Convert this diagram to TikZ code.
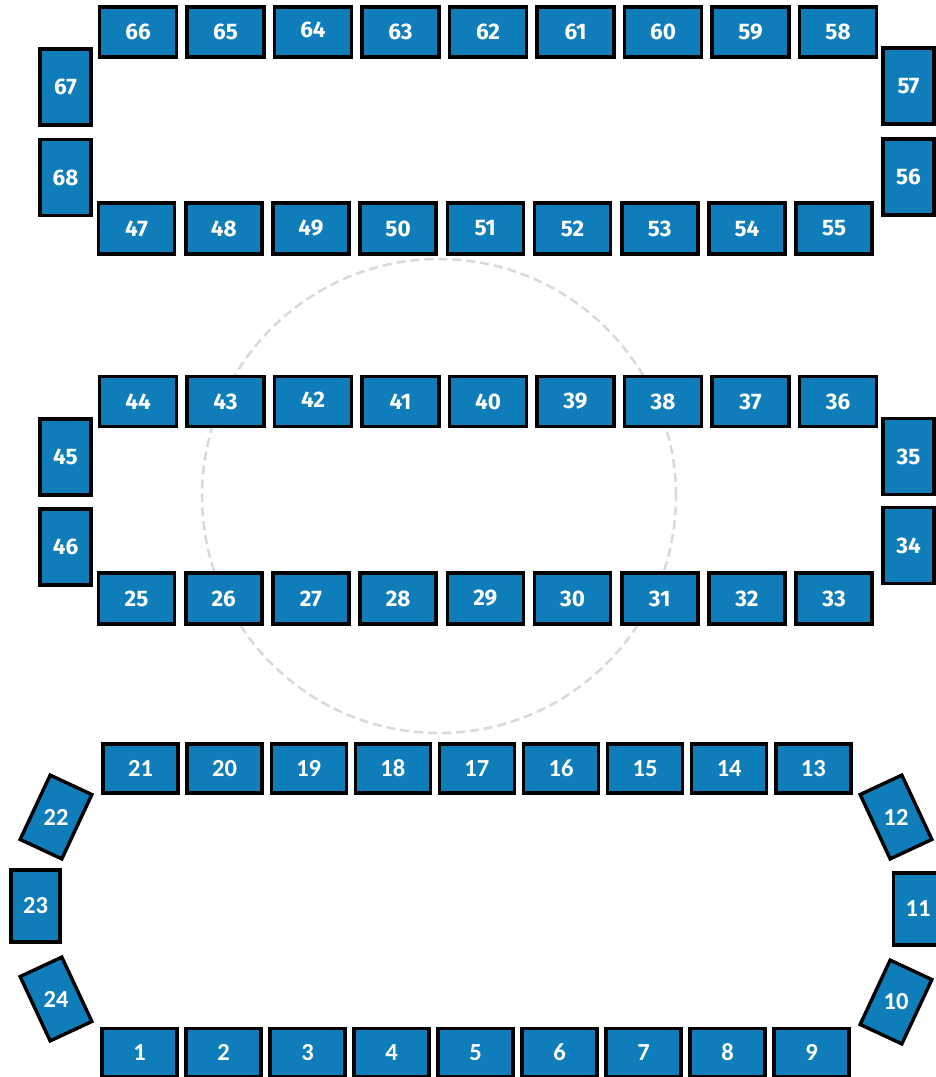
\documentclass[tikz,border=0pt]{standalone}
\usepackage{fontspec}
\setmainfont{Fira Sans}
\newfontfamily\carl{Carlito}
\definecolor{tblue}{RGB}{14,125,186}
\definecolor{ringgray}{RGB}{217,217,217}
\begin{document}
\begin{tikzpicture}[x=1pt,y=-1pt,
  tbl/.style={draw=black, fill=tblue, line width=3.6pt, inner sep=0pt, text=white,
    font=\bfseries\fontsize{22.5}{22.5}\selectfont},
  hA/.style={tbl, minimum width=77pt, minimum height=50pt},
  hB/.style={tbl, minimum width=76pt, minimum height=51pt},
  vS/.style={tbl, minimum width=51pt, minimum height=76pt},
  bfont/.style={font=\carl\bfseries\fontsize{24.5}{24.5}\selectfont},
  hC/.style={tbl, bfont, line width=3.4pt, minimum width=75pt, minimum height=49pt},
  vC/.style={tbl, bfont, line width=3.4pt, minimum width=49pt, minimum height=72pt},
  rC/.style={tbl, line width=3.4pt, minimum width=46pt, minimum height=71pt},
  lbl/.style={text=white, bfont, inner sep=0pt},
  ring/.style={draw=ringgray, line width=2.5pt, dash pattern=on 9pt off 5pt}
]
\useasboundingbox (0,0) rectangle (936,1077);

% dashed circle
\node[ring, circle, minimum size=474pt, inner sep=0pt] (ring) at (439,496) {};

% ---------- top section ----------
\foreach \n/\i in {66/0,65/1,63/3,62/4,61/5,60/6,59/7,58/8}
  \node[hA] (t\n) at ({138+87.5*\i},32) {\n};
\node[hA] (t64) at ({138+87.5*2},32) {\raisebox{4pt}{64}};
\foreach \n/\i in {47/0,48/1,49/2,50/3,51/4,52/5,53/6,54/7,55/8}
  \node[hB] (t\n) at ({136.5+87.2*\i},228.5) {\n};
\node[vS] (t67) at (65.5,87) {67};
\node[vS] (t68) at (65.5,177.5) {68};
\node[vS] (t57) at (908.5,86) {57};
\node[vS] (t56) at (908.5,177) {56};

% ---------- middle section ----------
\foreach \n/\i in {44/0,43/1,41/3,40/4,39/5,38/6,37/7,36/8}
  \node[hA] (t\n) at ({138+87.5*\i},401.5) {\n};
\node[hA] (t42) at ({138+87.5*2},401.5) {\raisebox{3pt}{42}};
\foreach \n/\i in {25/0,26/1,27/2,28/3,29/4,30/5,31/6,32/7,33/8}
  \node[hB] (t\n) at ({136.5+87.2*\i},598.5) {\n};
\node[vS] (t45) at (65.5,457) {45};
\node[vS] (t46) at (65.5,547) {46};
\node[vS] (t35) at (908.5,456.5) {35};
\node[vS] (t34) at (908.5,545.5) {34};

% ---------- bottom section ----------
\foreach \n/\i in {21/0,20/1,19/2,18/3,17/4,16/5,15/6,14/7,13/8}
  \node[hC] (t\n) at ({140.5+84.1*\i},768.5) {\n};
\foreach \n/\i in {1/0,2/1,3/2,4/3,5/4,6/5,7/6,8/7,9/8}
  \node[hC, minimum height=48pt] (t\n) at ({139.5+84*\i},1052.5) {\n};
\node[vC] (t23) at (35.5,906) {23};
\node[vC] (t11) at (918,909) {11};
\node[rC, rotate=-25] (t22) at (56,817) {};
\node[lbl] at (t22) {22};
\node[rC, rotate=25] (t24) at (56,999) {};
\node[lbl] at (t24) {24};
\node[rC, rotate=25] (t12) at (896,817) {};
\node[lbl] at (t12) {12};
\node[rC, rotate=-25] (t10) at (896,1002) {};
\node[lbl] at (t10) {10};
\end{tikzpicture}
\end{document}
